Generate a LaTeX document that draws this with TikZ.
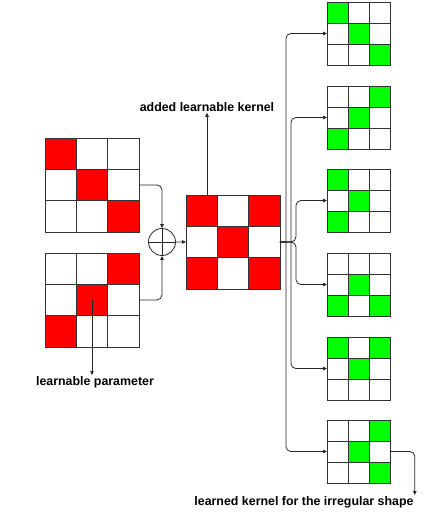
\documentclass[tikz,border=0pt]{standalone}
\usepackage{fontspec}
\newfontfamily\labelfont{Liberation Sans}
\usetikzlibrary{calc,arrows.meta}
\definecolor{kred}{RGB}{255,0,0}
\definecolor{kgreen}{RGB}{0,255,0}
\tikzset{
  cell/.style={
    draw=black!80,
    fill=white,
    line width=0.8pt,
    inner sep=0pt,
    outer sep=0pt
  },
  link/.style={
    draw=black!85,
    line width=0.8pt,
    rounded corners=5pt,
    -{Triangle[length=4pt,width=3.5pt]}
  },
  lab/.style={
    font=\labelfont\bfseries\fontsize{12.4}{14}\selectfont,
    inner sep=1pt
  },
  oplus/.style={
    draw=black!85,
    line width=0.8pt,
    shape=circle,
    minimum size=27pt,
    inner sep=0pt
  }
}
% #1 name, #2/#3 top left corner, #4 cell size, #5 colour, #6 filled cells
\newcommand\kernelgrid[6]{%
  \foreach \row in {0,1,2}{
    \foreach \col in {0,1,2}{
      \node[cell,minimum size=#4pt] (#1-\row-\col) at (#2+\col*#4+#4/2, #3+\row*#4+#4/2) {};
    }
  }
  \foreach \p in {#6}{
    \node[cell,fill=#5,minimum size=#4pt] at (#1-\p) {};
  }
}
\begin{document}
\begin{tikzpicture}[x=1pt,y=-1pt]
  \useasboundingbox (0,0) rectangle (440,528);
  % the two parameters and their sum
  \kernelgrid{top}{45}{138}{31.3}{kred}{0-0,1-1,2-2}
  \kernelgrid{bot}{45}{253}{31.3}{kred}{0-2,1-1,2-0}
  \kernelgrid{mid}{186}{195}{31.3}{kred}{0-0,0-2,1-1,2-0,2-2}
  % learned kernels
  \kernelgrid{g1}{327}{2}{21}{kgreen}{0-0,1-1,2-2}
  \kernelgrid{g2}{327}{86}{21}{kgreen}{0-2,1-1,2-0}
  \kernelgrid{g3}{327}{169}{21}{kgreen}{0-0,1-1,2-0}
  \kernelgrid{g4}{327}{253}{21}{kgreen}{1-1,2-0,2-2}
  \kernelgrid{g5}{327}{337}{21}{kgreen}{0-0,0-2,1-1}
  \kernelgrid{g6}{327}{420}{21}{kgreen}{0-2,1-1,2-2}

  \node[oplus] (plus) at (162,242) {};
  \draw[draw=black!85,line width=0.8pt] (plus.north)--(plus.south) (plus.west)--(plus.east);
  \draw[link] (top-1-2.east) -| (plus.north);
  \draw[link] (bot-1-2.east) -| (plus.south);
  \draw[link] (plus.east) -- (mid-1-0.west);

  \node[lab] (addlab) at (207,107) {added learnable kernel};
  \draw[link] (mid-0-0.north -| addlab) -- (addlab.south);
  \node[lab] (parlab) at (95,382) {learnable parameter};
  \draw[link] (bot-1-1.center) -- (bot-1-1.center |- parlab.north);

  % branches to the learned kernels
  \foreach \g/\d in {g1/6,g6/6,g2/11,g5/11}{
    \draw[link,sharp corners] (mid-1-2.east) -- ++(\d,0) [rounded corners=5pt] |- (\g-1-0.west);
  }
  \foreach \g in {g3,g4}{
    \draw[link] (mid-1-2.east) -- ++(16,0) |- (\g-1-0.west);
  }
  \node[lab] (outlab) at (304,502) {learned kernel for the irregular shape};
  \draw[link] (g6-1-2.east) -| (outlab.north east);
\end{tikzpicture}
\end{document}
